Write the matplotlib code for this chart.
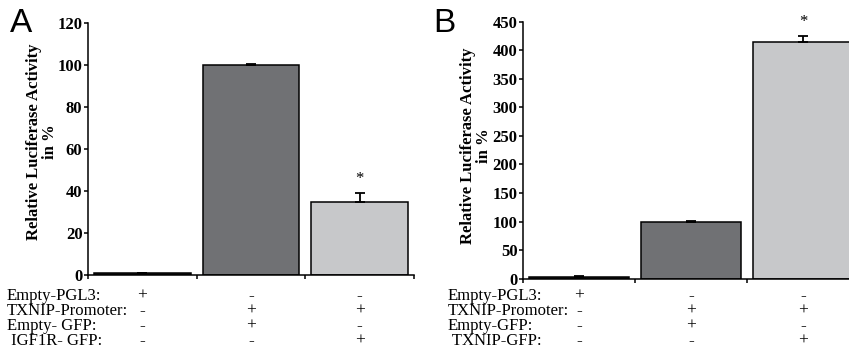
import matplotlib
matplotlib.use("Agg")
import matplotlib.pyplot as plt
import matplotlib.transforms as mtransforms

# panel A data
a_values = [0.8, 100, 35]
a_errors = [0.3, 0.5, 4]
a_stars = [False, False, True]
a_rows = ["Empty-PGL3:", "TXNIP-Promoter:", "Empty- GFP:", " IGF1R- GFP:"]
a_signs = [["+", "-", "-"], ["-", "+", "+"], ["-", "+", "-"], ["-", "-", "+"]]
a_yticks = [0, 20, 40, 60, 80, 100, 120]

# panel B data
b_values = [3.5, 100, 415]
b_errors = [1.5, 1, 10]
b_stars = [False, False, True]
b_rows = ["Empty-PGL3:", "TXNIP-Promoter:", "Empty-GFP:", " TXNIP-GFP:"]
b_signs = [["+", "-", "-"], ["-", "+", "+"], ["-", "+", "-"], ["-", "-", "+"]]
b_yticks = [0, 50, 100, 150, 200, 250, 300, 350, 400, 450]

COLORS = ["#1c1c1c", "#707174", "#c7c8ca"]
SERIF = "Liberation Serif"
YLABEL = "Relative Luciferase Activity\nin %"


def panel(fig, rect, values, errors, stars, yticks, width):
    ax = fig.add_axes(rect)
    x = range(len(values))
    ax.bar(x, values, width=width, color=COLORS, edgecolor="black",
           linewidth=1.1, zorder=2)
    ax.errorbar(x, values, yerr=[[0] * len(values), errors], fmt="none",
                ecolor="black", elinewidth=1.3, capsize=3.5, capthick=1.3,
                zorder=3)
    for xi, v, e, s in zip(x, values, errors, stars):
        if s:
            ax.annotate("*", xy=(xi, v + e), xytext=(0, 10),
                        textcoords="offset points", ha="center", va="center",
                        fontsize=12, family=SERIF)
    ax.set_xlim(-0.5, len(values) - 0.5)
    ax.set_ylim(0, yticks[-1])
    ax.set_yticks(yticks)
    ax.set_xticks([i - 0.5 for i in range(len(values) + 1)])
    ax.set_xticklabels([])
    ax.set_yticklabels([str(t) for t in yticks], fontsize=12,
                       fontweight="bold", family=SERIF)
    for s in ("top", "right"):
        ax.spines[s].set_visible(False)
    for s in ("left", "bottom"):
        ax.spines[s].set_linewidth(1.1)
    ax.tick_params(axis="y", direction="out", length=3, width=1.1, pad=1)
    ax.tick_params(axis="x", direction="out", length=3, width=1.1)
    return ax


def table(fig, ax, rows, signs, label_x, row_y):
    trans = mtransforms.blended_transform_factory(ax.transData, fig.transFigure)
    for r, (lab, sg) in enumerate(zip(rows, signs)):
        y = 1 - row_y[r] / 352
        fig.text(label_x / 849, y, lab, fontsize=12, family=SERIF,
                 ha="left", va="center")
        for i, s in enumerate(sg):
            ax.text(i, y, s, transform=trans, fontsize=12.5, family=SERIF,
                    ha="center", va="center")


fig = plt.figure(figsize=(8.49, 3.52), dpi=100)

ax_a = panel(fig, [88 / 849, 77 / 352, 326 / 849, 252 / 352],
             a_values, a_errors, a_stars, a_yticks, 0.89)
ax_b = panel(fig, [523 / 849, 73.3 / 352, 336 / 849, 257 / 352],
             b_values, b_errors, b_stars, b_yticks, 0.9)

fig.text(42 / 849, 1 - 142 / 352, YLABEL, rotation=90, ha="center",
         va="center", multialignment="center", fontsize=12,
         fontweight="bold", family=SERIF, linespacing=1.05)
fig.text(476 / 849, 1 - 146 / 352, YLABEL, rotation=90, ha="center",
         va="center", multialignment="center", fontsize=12,
         fontweight="bold", family=SERIF, linespacing=1.05)

fig.text(10 / 849, 1 - 23 / 352, "A", fontsize=24, family="Liberation Sans",
         ha="left", va="center")
fig.text(433 / 849, 1 - 23 / 352, "B", fontsize=24, family="Liberation Sans",
         ha="left", va="center")

table(fig, ax_a, a_rows, a_signs, 7, [296, 311, 326, 341])
table(fig, ax_b, b_rows, b_signs, 448, [296, 311, 326, 341])

fig.savefig("out.png", dpi=100)
